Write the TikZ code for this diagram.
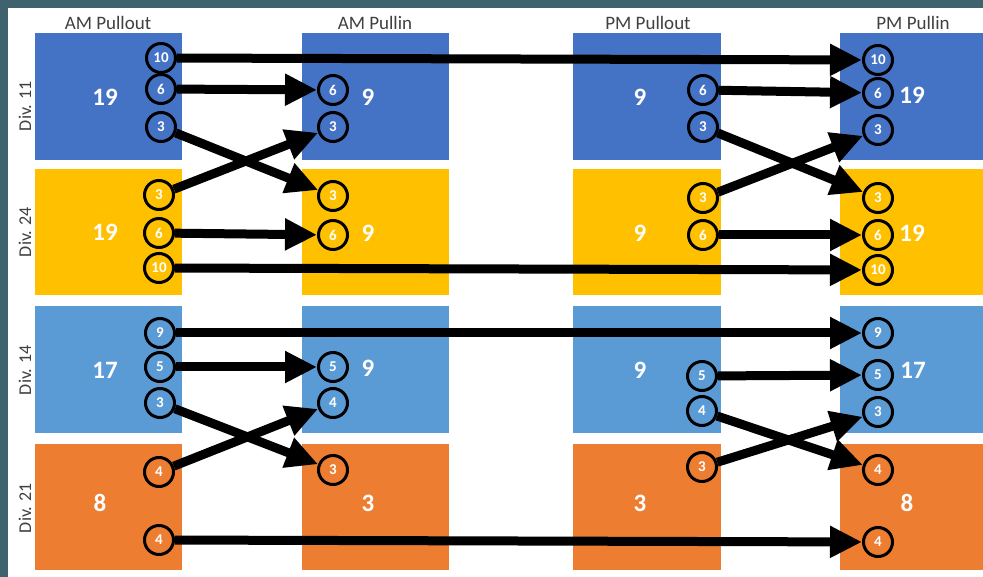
\documentclass[tikz,border=0pt]{standalone}
\usepackage{fontspec}
\setmainfont{Carlito}
\usetikzlibrary{arrows.meta}
\definecolor{dblue}{HTML}{4472C4}
\definecolor{gold}{HTML}{FFC000}
\definecolor{lblue}{HTML}{5B9BD5}
\definecolor{orng}{HTML}{ED7D31}
\definecolor{frame}{RGB}{62,98,110}
\definecolor{txt}{HTML}{404040}
\begin{document}
\begin{tikzpicture}[x=1pt,y=-1pt,
  cc/.style={circle, draw=black, line width=3pt, fill=#1, minimum size=29pt, inner sep=0pt, text=white, font=\bfseries\fontsize{15}{15}\selectfont},
  big/.style={text=white, font=\bfseries\fontsize{25}{25}\selectfont, inner sep=0pt},
  head/.style={text=txt, font=\fontsize{19}{19}\selectfont, inner sep=0pt},
  divl/.style={text=txt, font=\fontsize{18}{18}\selectfont, inner sep=0pt, rotate=90},
  arr/.style={line width=9pt, draw=black, -{Triangle[length=32pt,width=30pt]}}]
\fill[frame] (0,0) rectangle (983,577);
\fill[white] (8,8) rectangle (983,577);
\useasboundingbox (0,0) rectangle (983,577);
% boxes
\foreach \x/\w in {35/182, 302/449, 573/721, 840/983}{
  \fill[dblue] (\x,33) rectangle (\w,160);
  \fill[gold] (\x,169) rectangle (\w,295);
  \fill[lblue] (\x,306) rectangle (\w,433);
  \fill[orng] (\x,444) rectangle (\w,570);
}
% headers
\node[head] (h1) at (108,23) {AM Pullout};
\node[head] (h2) at (375,23) {AM Pullin};
\node[head] (h3) at (648,23) {PM Pullout};
\node[head] (h4) at (913,23) {PM Pullin};
% division labels
\node[divl] (d11) at (25,106) {Div. 11};
\node[divl] (d24) at (25,232) {Div. 24};
\node[divl] (d14) at (25,370) {Div. 14};
\node[divl] (d21) at (25,508) {Div. 21};
% big numbers
\node[big] (n1) at (105,97) {19};
\node[big] (n2) at (105,232) {19};
\node[big] (n3) at (105,370) {17};
\node[big] (n4) at (100,503) {8};
\node[big] (n5) at (368,97) {9};
\node[big] (n6) at (368,233) {9};
\node[big] (n7) at (368,368) {9};
\node[big] (n8) at (368,503) {3};
\node[big] (n9) at (640,97) {9};
\node[big] (n10) at (640,233) {9};
\node[big] (n11) at (640,370) {9};
\node[big] (n12) at (640,503) {3};
\node[big] (n13) at (912,95) {19};
\node[big] (n14) at (912,233) {19};
\node[big] (n15) at (913,370) {17};
\node[big] (n16) at (907,503) {8};
% AM pullout circles
\node[cc=dblue] (ao10) at (161,58) {10};
\node[cc=dblue] (ao6) at (161,89) {6};
\node[cc=dblue] (ao3) at (161,127) {3};
\node[cc=gold] (ay3) at (159,195) {3};
\node[cc=gold] (ay6) at (159,233) {6};
\node[cc=gold] (ay10) at (159,268) {10};
\node[cc=lblue] (al9) at (160,333) {9};
\node[cc=lblue] (al5) at (160,367) {5};
\node[cc=lblue] (al3) at (160,403) {3};
\node[cc=orng] (ar4) at (159,472) {4};
\node[cc=orng] (ar4b) at (159,540) {4};
% AM pullin circles
\node[cc=dblue] (bi6) at (333,90) {6};
\node[cc=dblue] (bi3) at (333,127) {3};
\node[cc=gold] (by3) at (333,196) {3};
\node[cc=gold] (by6) at (333,235) {6};
\node[cc=lblue] (bl5) at (333,367) {5};
\node[cc=lblue] (bl4) at (333,403) {4};
\node[cc=orng] (br3) at (333,470) {3};
% PM pullout circles
\node[cc=dblue] (po6) at (703,90) {6};
\node[cc=dblue] (po3) at (703,127) {3};
\node[cc=gold] (py3) at (703,198) {3};
\node[cc=gold] (py6) at (703,235) {6};
\node[cc=lblue] (pl5) at (702,376) {5};
\node[cc=lblue] (pl4) at (702,411) {4};
\node[cc=orng] (pr3) at (702,467) {3};
% PM pullin circles
\node[cc=dblue] (qi10) at (878,60) {10};
\node[cc=dblue] (qi6) at (878,93) {6};
\node[cc=dblue] (qi3) at (878,130) {3};
\node[cc=gold] (qy3) at (878,198) {3};
\node[cc=gold] (qy6) at (878,235) {6};
\node[cc=gold] (qy10) at (878,270) {10};
\node[cc=lblue] (ql9) at (878,333) {9};
\node[cc=lblue] (ql5) at (878,375) {5};
\node[cc=lblue] (ql3) at (878,412) {3};
\node[cc=orng] (qr4) at (878,470) {4};
\node[cc=orng] (qr4b) at (878,542) {4};
% arrows
\draw[arr] (ao10) -- (qi10);
\draw[arr] (ao6) -- (bi6);
\draw[arr] (ao3) -- (by3);
\draw[arr] (ay3) -- (bi3);
\draw[arr] (ay6) -- (by6);
\draw[arr] (ay10) -- (qy10);
\draw[arr] (po6) -- (qi6);
\draw[arr] (po3) -- (qy3);
\draw[arr] (py3) -- (qi3);
\draw[arr] (py6) -- (qy6);
\draw[arr] (al9) -- (ql9);
\draw[arr] (al5) -- (bl5);
\draw[arr] (al3) -- (br3);
\draw[arr] (ar4) -- (bl4);
\draw[arr] (ar4b) -- (qr4b);
\draw[arr] (pl5) -- (ql5);
\draw[arr] (pl4) -- (qr4);
\draw[arr] (pr3) -- (ql3);
\end{tikzpicture}
\end{document}
